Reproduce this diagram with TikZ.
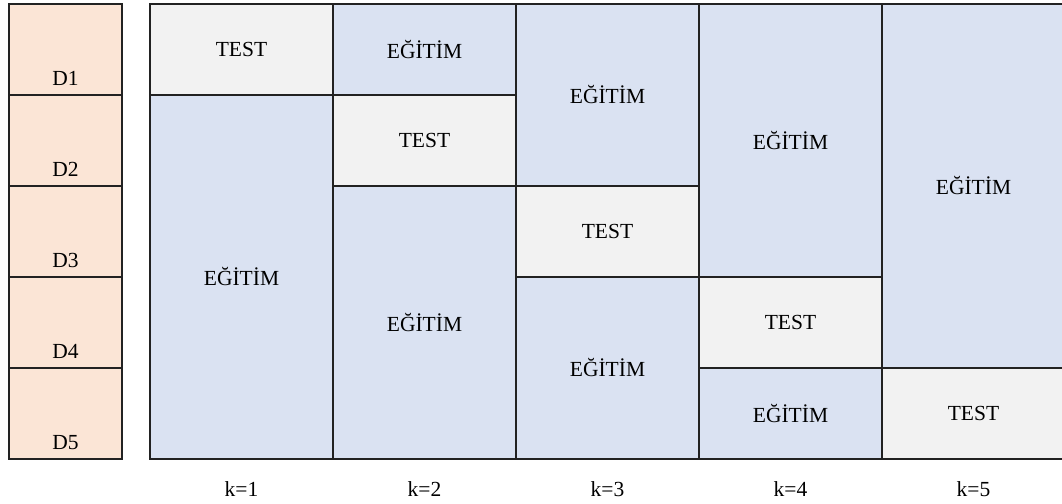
\documentclass[tikz,border=0pt]{standalone}
\usepackage{fontspec}
\setmainfont{Liberation Serif}
\definecolor{foldpeach}{HTML}{FBE5D6}
\definecolor{trainblue}{HTML}{DAE2F2}
\definecolor{testgray}{HTML}{F2F2F2}
\definecolor{edgec}{HTML}{222222}
\begin{document}
\begin{tikzpicture}[x=1pt,y=-1pt,
  cellbox/.style={draw=edgec, line width=1.3pt, minimum width=183pt, inner sep=0pt, outer sep=0pt,
    font=\fontsize{21.5}{24}\selectfont},
  train/.style={cellbox, fill=trainblue},
  testc/.style={cellbox, fill=testgray},
  foldbox/.style={draw=edgec, line width=1.3pt, fill=foldpeach, minimum width=113pt, minimum height=91pt,
    inner sep=0pt, outer sep=0pt},
  foldlbl/.style={anchor=base, yshift=10pt, inner sep=0pt, font=\fontsize{21.5}{24}\selectfont},
  klabel/.style={anchor=base, inner sep=0pt, font=\fontsize{21.5}{24}\selectfont}]
\useasboundingbox (0,0) rectangle (1062,503);
\clip (0,0) rectangle (1062,503);

% data folds
\node[foldbox, label={[foldlbl]south:D1}] (d1) at (65.5,49.5) {};
\node[foldbox, label={[foldlbl]south:D2}] (d2) at (65.5,140.5) {};
\node[foldbox, label={[foldlbl]south:D3}] (d3) at (65.5,231.5) {};
\node[foldbox, label={[foldlbl]south:D4}] (d4) at (65.5,322.5) {};
\node[foldbox, label={[foldlbl]south:D5}] (d5) at (65.5,413.5) {};

% k = 1
\node[testc, minimum height=91pt]  (t1)  at (241.5,49.5) {TEST};
\node[train, minimum height=364pt] (e1)  at (241.5,277) {EĞİTİM};
% k = 2
\node[train, minimum height=91pt]  (e2a) at (424.5,49.5) {EĞİTİM};
\node[testc, minimum height=91pt]  (t2)  at (424.5,140.5) {TEST};
\node[train, minimum height=273pt] (e2b) at (424.5,322.5) {EĞİTİM};
% k = 3
\node[train, minimum height=182pt] (e3a) at (607.5,95) {EĞİTİM};
\node[testc, minimum height=91pt]  (t3)  at (607.5,231.5) {TEST};
\node[train, minimum height=182pt] (e3b) at (607.5,368) {EĞİTİM};
% k = 4
\node[train, minimum height=273pt] (e4a) at (790.5,140.5) {EĞİTİM};
\node[testc, minimum height=91pt]  (t4)  at (790.5,322.5) {TEST};
\node[train, minimum height=91pt]  (e4b) at (790.5,413.5) {EĞİTİM};
% k = 5
\node[train, minimum height=364pt] (e5)  at (973.5,186) {EĞİTİM};
\node[testc, minimum height=91pt]  (t5)  at (973.5,413.5) {TEST};

% iteration labels
\node[klabel] (k1) at (241.5,496) {k=1};
\node[klabel] (k2) at (424.5,496) {k=2};
\node[klabel] (k3) at (607.5,496) {k=3};
\node[klabel] (k4) at (790.5,496) {k=4};
\node[klabel] (k5) at (973.5,496) {k=5};
\end{tikzpicture}
\end{document}
